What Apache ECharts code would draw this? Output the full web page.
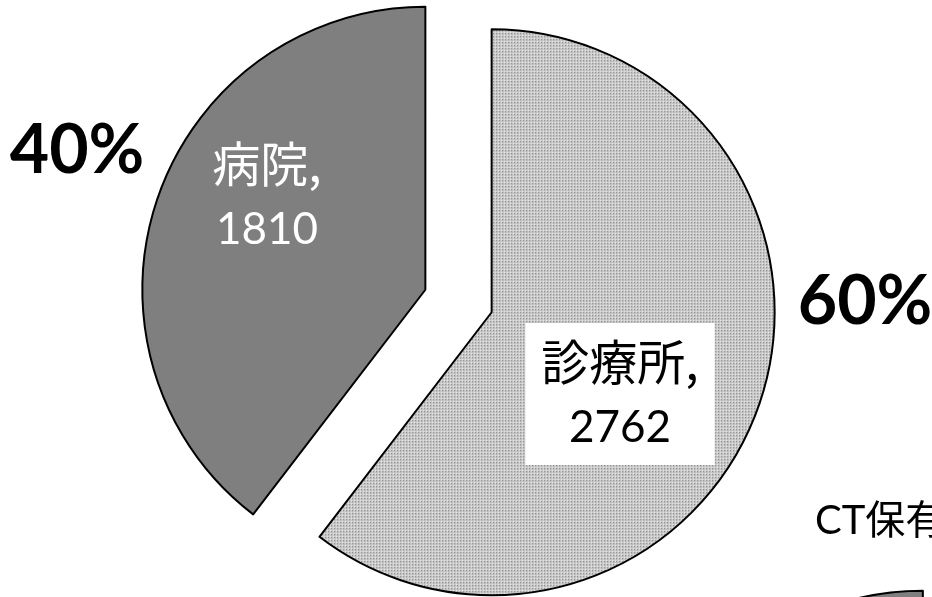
<!DOCTYPE html>
<html>
<head>
<meta charset="utf-8">
<script src="https://cdn.jsdelivr.net/npm/echarts@6/dist/echarts.min.js"></script>
<style>
  html, body { margin: 0; padding: 0; background: #fff; }
  #chart { width: 932px; height: 597px; }
</style>
</head>
<body>
<div id="chart"></div>
<script>
// Facility types and their unit counts
const categories = ['診療所', '病院'];
const counts = [2762, 1810];
const nextChartTitle = 'CT保有';

// Fine dotted fill for the clinic slice
function dotPattern() {
  const c = document.createElement('canvas');
  c.width = 3; c.height = 3;
  const g = c.getContext('2d');
  g.fillStyle = '#cacaca'; g.fillRect(0, 0, 3, 3);
  g.fillStyle = '#6e6e6e'; g.fillRect(1, 1, 1, 1);
  g.fillStyle = '#f4f4f4'; g.fillRect(0, 0, 1, 1);
  return c;
}
const pattern = { image: dotPattern(), repeat: 'repeat' };

const LATIN = 'Lato, "Noto Sans CJK JP", sans-serif';
const CJK = '"Noto Sans CJK JP", sans-serif';

const CENTER = [458.5, 301];
const RADIUS = 283;

// label anchor points (clinic, hospital)
const labelPos = [[620, 394], [267, 195]];
const pctPos = [[865, 302], [77, 151]];

const chart = echarts.init(document.getElementById('chart'), null, { renderer: 'canvas' });

const items = categories.map((name, i) => ({ name, value: counts[i] }));

// transparent copy of the pie that only carries labels
function labelSeries(label, positions, data) {
  return {
    type: 'pie',
    center: CENTER,
    radius: RADIUS,
    startAngle: 90,
    clockwise: true,
    silent: true,
    avoidLabelOverlap: false,
    emphasis: { disabled: true },
    itemStyle: { color: 'rgba(0,0,0,0)', borderWidth: 0 },
    labelLine: { show: false },
    label: Object.assign({ show: true, position: 'inside', align: 'center', verticalAlign: 'middle' }, label),
    labelLayout: p => ({ x: positions[p.dataIndex][0], y: positions[p.dataIndex][1] }),
    data
  };
}

chart.setOption({
  animation: false,
  backgroundColor: '#fff',
  graphic: [{
    type: 'text',
    left: 815, top: 501,
    style: { text: nextChartTitle, font: '40px ' + LATIN, fill: '#000' }
  }],
  series: [
    {
      type: 'pie',
      center: CENTER,
      radius: RADIUS,
      startAngle: 90,
      clockwise: true,
      selectedMode: 'multiple',
      selectedOffset: 35,
      silent: true,
      emphasis: { disabled: true },
      itemStyle: { borderColor: '#000', borderWidth: 2 },
      label: { show: false },
      labelLine: { show: false },
      data: items.map((d, i) => ({
        ...d,
        selected: true,
        itemStyle: { color: i === 0 ? pattern : '#7f7f7f' }
      }))
    },
    labelSeries({
      formatter: p => `{n|${p.name},}\n{v|${p.value}}`,
      rich: {
        n: { fontFamily: CJK, fontSize: 48, lineHeight: 70 },
        v: { fontFamily: LATIN, fontSize: 44, lineHeight: 62 }
      }
    }, labelPos, items.map((d, i) => ({
      ...d,
      label: i === 0
        ? { color: '#000', backgroundColor: '#fff', padding: [4, 16, 6, 16] }
        : { color: '#fff' }
    }))),
    labelSeries({
      formatter: p => Math.round(p.percent) + '%',
      fontFamily: LATIN,
      fontWeight: 'bold',
      fontSize: 68,
      color: '#000'
    }, pctPos, items),
    {
      // top edge of the following chart
      type: 'pie',
      center: [956, 885],
      radius: RADIUS,
      startAngle: 90,
      clockwise: true,
      silent: true,
      selectedMode: 'multiple',
      selectedOffset: 35,
      emphasis: { disabled: true },
      itemStyle: { borderColor: '#000', borderWidth: 2 },
      label: { show: false },
      labelLine: { show: false },
      data: items.map((d, i) => ({
        ...d,
        selected: true,
        itemStyle: { color: i === 0 ? pattern : '#7f7f7f' }
      }))
    }
  ]
});
</script>
</body>
</html>
